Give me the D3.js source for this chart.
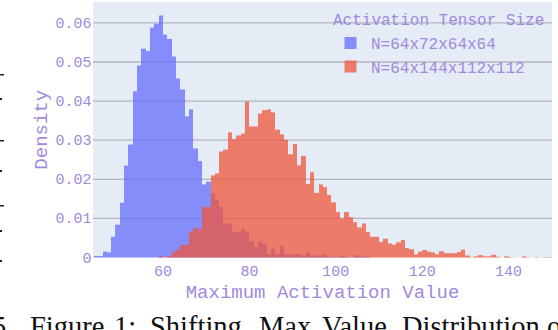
<!DOCTYPE html>
<html>
<head>
<meta charset="utf-8">
<script src="https://cdn.jsdelivr.net/npm/d3@7"></script>
<style>
  body { margin: 0; background: #fff; }
  svg { display: block; }
</style>
</head>
<body>
<div id="chart"></div>
<script>
"use strict";

// histogram bins are 1 unit wide, first bin starts at these values
var binWidth = 1;
var blueStart = 44;
var redStart = 59;

// density per bin
var blueDensity = [
  0.0004, 0.0004, 0.0015, 0.0013, 0.0053, 0.0084, 0.0140, 0.0235, 0.0289, 0.0425, // 44-53
  0.0491, 0.0534, 0.0528, 0.0588, 0.0598, 0.0619, 0.0570, 0.0559, 0.0514, 0.0458, // 54-63
  0.0430, 0.0361, 0.0379, 0.0279, 0.0247, 0.0187, 0.0194, 0.0164, 0.0147, 0.0130, // 64-73
  0.0087, 0.0087, 0.0066, 0.0066, 0.0073, 0.0066, 0.0042, 0.0026, 0.0041, 0.0035, // 74-83
  0.0008, 0.0023, 0.0008, 0.0029, 0.0008, 0.0008, 0.0008, 0.0008, 0.0005, 0.0013, // 84-93
  0.0005, 0.0005, 0.0005, 0.0008, 0.0002, 0.0002, 0.0002, 0.0005, 0.0002, 0.0000, // 94-103
  0.0005, 0.0005, 0.0002, 0.0002                                                  // 104-107
];

var redDensity = [
  0.0004, 0.0000, 0.0004, 0.0015, 0.0020, 0.0032, 0.0032, 0.0066, 0.0075, 0.0072, // 59-68
  0.0129, 0.0129, 0.0210, 0.0215, 0.0271, 0.0276, 0.0320, 0.0303, 0.0312, 0.0317, // 69-78
  0.0399, 0.0335, 0.0335, 0.0368, 0.0377, 0.0379, 0.0371, 0.0327, 0.0315, 0.0301, // 79-88
  0.0264, 0.0290, 0.0236, 0.0260, 0.0188, 0.0218, 0.0165, 0.0187, 0.0180, 0.0160, // 89-98
  0.0141, 0.0116, 0.0100, 0.0116, 0.0103, 0.0090, 0.0077, 0.0087, 0.0065, 0.0053, // 99-108
  0.0053, 0.0040, 0.0048, 0.0036, 0.0033, 0.0039, 0.0045, 0.0024, 0.0021, 0.0008, // 109-118
  0.0015, 0.0019, 0.0015, 0.0013, 0.0008, 0.0016, 0.0011, 0.0011, 0.0011, 0.0014, // 119-128
  0.0020, 0.0005, 0.0001, 0.0003, 0.0006, 0.0003, 0.0003, 0.0007, 0.0002, 0.0000, // 129-138
  0.0003, 0.0001, 0.0000, 0.0000, 0.0003, 0.0001, 0.0000, 0.0001, 0.0000, 0.0001, // 139-148
  0.0001                                                                          // 149
];

var seriesNames = ["N=64x72x64x64", "N=64x144x112x112"];
var seriesColors = ["#636efa", "#EF553B"];
var legendTitle = "Activation Tensor Size";
var xTicks = [60, 80, 100, 120, 140];
var yTicks = [0, 0.01, 0.02, 0.03, 0.04, 0.05, 0.06];
var xTitle = "Maximum Activation Value";
var yTitle = "Density";
var captionWords = ["5", "Figure", "1:", "Shifting", "Max", "Value", "Distribution", "of"];
var captionX = [-8, 30, 114, 150, 259, 322, 402, 547];

var W = 558, H = 330;
var plot = { left: 93, right: 552, top: 2, bottom: 257.5 };
var mono = "'Courier New', Courier, 'Nimbus Mono PS', FreeMono, 'Liberation Mono', monospace";
var textColor = "#a08ade";

var svg = d3.select("#chart").append("svg")
  .attr("width", W)
  .attr("height", H);

var x = d3.scaleLinear()
  .domain([43.8, 150.05])
  .range([plot.left, plot.right]);

var y = d3.scaleLinear()
  .domain([0, 0.06535])
  .range([plot.bottom, plot.top]);

// plot background
svg.append("rect")
  .attr("x", plot.left)
  .attr("y", plot.top)
  .attr("width", plot.right - plot.left)
  .attr("height", plot.bottom - plot.top)
  .attr("fill", "#e5ecf6");

// horizontal grid, under the bars
svg.append("g")
  .selectAll("line")
  .data(yTicks.filter(function(d) { return d > 0; }))
  .enter().append("line")
    .attr("x1", plot.left)
    .attr("x2", plot.right)
    .attr("y1", function(d) { return y(d); })
    .attr("y2", function(d) { return y(d); })
    .attr("stroke", "#b3b5bf")
    .attr("stroke-width", 1.3);

// one overlaid histogram per series, red on top of blue
function drawBars(values, start, color) {
  svg.append("g")
    .selectAll("rect")
    .data(values)
    .enter().append("rect")
      .attr("x", function(d, i) { return Math.round(x(start + i * binWidth)); })
      .attr("width", function(d, i) {
        return Math.round(x(start + (i + 1) * binWidth)) - Math.round(x(start + i * binWidth));
      })
      .attr("y", function(d) { return y(d); })
      .attr("height", function(d) { return y(0) - y(d); })
      .attr("fill", color)
      .attr("fill-opacity", 0.75);
}
drawBars(blueDensity, blueStart, seriesColors[0]);
drawBars(redDensity, redStart, seriesColors[1]);

// y tick labels
svg.append("g")
  .selectAll("text")
  .data(yTicks)
  .enter().append("text")
    .attr("x", 91.5)
    .attr("y", function(d) { return y(d) + 5; })
    .attr("text-anchor", "end")
    .attr("font-family", mono)
    .attr("font-size", 15)
    .attr("fill", textColor)
    .text(function(d) { return d === 0 ? "0" : d3.format(".2f")(d); });

// x tick labels
svg.append("g")
  .selectAll("text")
  .data(xTicks)
  .enter().append("text")
    .attr("x", function(d) { return x(d); })
    .attr("y", 275.5)
    .attr("text-anchor", "middle")
    .attr("font-family", mono)
    .attr("font-size", 15)
    .attr("fill", textColor)
    .text(function(d) { return d; });

// axis titles
svg.append("text")
  .attr("x", (plot.left + plot.right) / 2)
  .attr("y", 298)
  .attr("text-anchor", "middle")
  .attr("font-family", mono)
  .attr("font-size", 19)
  .attr("fill", textColor)
  .text(xTitle);

svg.append("text")
  .attr("transform", "translate(46.5," + (plot.top + plot.bottom) / 2 + ") rotate(-90)")
  .attr("text-anchor", "middle")
  .attr("font-family", mono)
  .attr("font-size", 19)
  .attr("fill", textColor)
  .text(yTitle);

// legend
var legend = svg.append("g");
legend.append("text")
  .attr("x", 333)
  .attr("y", 25)
  .attr("font-family", mono)
  .attr("font-size", 16)
  .attr("fill", textColor)
  .text(legendTitle);

var items = legend.selectAll("g.item")
  .data(seriesNames)
  .enter().append("g")
    .attr("class", "item")
    .attr("transform", function(d, i) { return "translate(0," + (i * 23.5) + ")"; });

items.append("rect")
  .attr("x", 344.5)
  .attr("y", 37)
  .attr("width", 12)
  .attr("height", 12)
  .attr("fill", function(d, i) { return seriesColors[i]; })
  .attr("fill-opacity", 0.75);

items.append("text")
  .attr("x", 371)
  .attr("y", 49)
  .attr("font-family", mono)
  .attr("font-size", 16)
  .attr("fill", textColor)
  .text(function(d) { return d; });

// bits of the page around the figure: neighbour figure ticks and the caption
var leftMarks = [
  { y: 74, w: 4, h: 1.5 }, { y: 98, w: 2, h: 2 }, { y: 140, w: 4, h: 1.5 },
  { y: 170, w: 2, h: 2 }, { y: 205, w: 4, h: 1.5 }, { y: 230, w: 2, h: 2 },
  { y: 260, w: 2, h: 2 }
];
svg.append("g")
  .selectAll("rect")
  .data(leftMarks)
  .enter().append("rect")
    .attr("x", 0)
    .attr("y", function(d) { return d.y; })
    .attr("width", function(d) { return d.w; })
    .attr("height", function(d) { return d.h; })
    .attr("fill", "#222");

svg.append("g")
  .selectAll("text")
  .data(captionWords)
  .enter().append("text")
    .attr("x", function(d, i) { return captionX[i]; })
    .attr("y", 336)
    .attr("font-family", "'Liberation Serif', 'Times New Roman', serif")
    .attr("font-size", 28.5)
    .attr("fill", "#111")
    .text(function(d) { return d; });
</script>
</body>
</html>
